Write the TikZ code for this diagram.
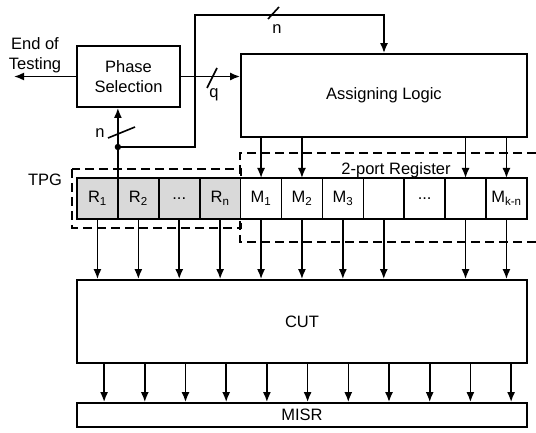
\documentclass[tikz,border=0pt]{standalone}
\usepackage{fontspec}
\setmainfont{Liberation Sans}
\usetikzlibrary{arrows.meta,positioning,calc}

\begin{document}
\begin{tikzpicture}[
    x=1pt, y=-1pt,
    >={Latex[length=10pt,width=8pt]},
    every node/.style={font=\fontsize{16.5}{20.5}\selectfont},
    box/.style={draw, rectangle, line width=1.8pt, inner sep=0pt},
    cell/.style={draw, rectangle, line width=1.6pt, minimum width=40.9pt, minimum height=41pt, inner sep=0pt, outer sep=0pt, fill=white},
    rcell/.style={cell, fill=gray!30},
    wire/.style={line width=1.6pt},
    dashbox/.style={draw, line width=1.6pt, dash pattern=on 9pt off 5pt}
]
\useasboundingbox (0,0) rectangle (536,433);

% Control blocks
\node[box, minimum width=103pt, minimum height=61pt, align=center] (phase) at (128.5,76.5) {Phase\\Selection};
\node[box, minimum width=286pt, minimum height=83pt] (assign) at (384,95.5) {Assigning Logic};
\node[align=center] (eot) at (35,55) {End of\\Testing};
\coordinate (eotend) at (14,76.5);
\draw[wire,->] (phase.west) -- (eotend);
\draw[wire,->] (phase.east) -- (phase.east -| assign.west);
\draw[wire] (207,88) -- (217,68);
\node at (214,95) {q};

% Dashed groups
\draw[dashbox] (536,153) -- (240,153) -- (240,242) -- (536,242);
\node at (396,170) {2-port Register};
\draw[dashbox] (72,169) rectangle (241,228);
\node at (45,180) {TPG};

% Register cells
\node[rcell] (r1) at (97.45,198.5) {R\textsubscript{1}};
\node[rcell, right=0pt of r1] (r2) {R\textsubscript{2}};
\node[rcell, right=0pt of r2] (rdots) {...};
\node[rcell, right=0pt of rdots] (rn) {R\textsubscript{n}};
\node[cell, right=0pt of rn] (m1) {M\textsubscript{1}};
\node[cell, right=0pt of m1] (m2) {M\textsubscript{2}};
\node[cell, right=0pt of m2] (m3) {M\textsubscript{3}};
\node[cell, right=0pt of m3] (m4) {};
\node[cell, right=0pt of m4] (m5) {...};
\node[cell, right=0pt of m5] (m6) {};
\node[cell, right=0pt of m6] (m7) {M\textsubscript{k-n}};

% Feedback of the TPG state
\coordinate (jct) at (r1.north east |- 0,147);
\draw[wire,->] (r1.north east) -- (r1.north east |- phase.south);
\fill (jct) circle (3.2pt);
\draw[wire,->] (jct) -- (195,147) -- (195,15) -- (assign.north |- 0,15) -- (assign.north);
\draw[wire] (108,138) -- (135,127);
\node at (100,133) {n};
\draw[wire] (268,19) -- (279,7);
\node at (277,29) {n};

\foreach \c in {m1,m2,m6,m7}
    \draw[wire,->] (assign.south -| \c.north) -- (\c.north);

% Circuit under test
\node[box, minimum width=450pt, minimum height=83pt] (cut) at (302,321.5) {CUT};
\node[box, minimum width=450pt, minimum height=24pt] (misr) at (302,415) {MISR};

\foreach \c in {r1,r2,rdots,rn,m1,m2,m3,m4,m6,m7}
    \draw[wire,->] (\c.south) -- (\c.south |- cut.north);
\foreach \i in {0,...,10}
    \draw[wire,->] ([xshift={28pt+40.7pt*\i}]cut.south west) -- ([xshift={28pt+40.7pt*\i}]misr.north west);

\end{tikzpicture}
\end{document}
